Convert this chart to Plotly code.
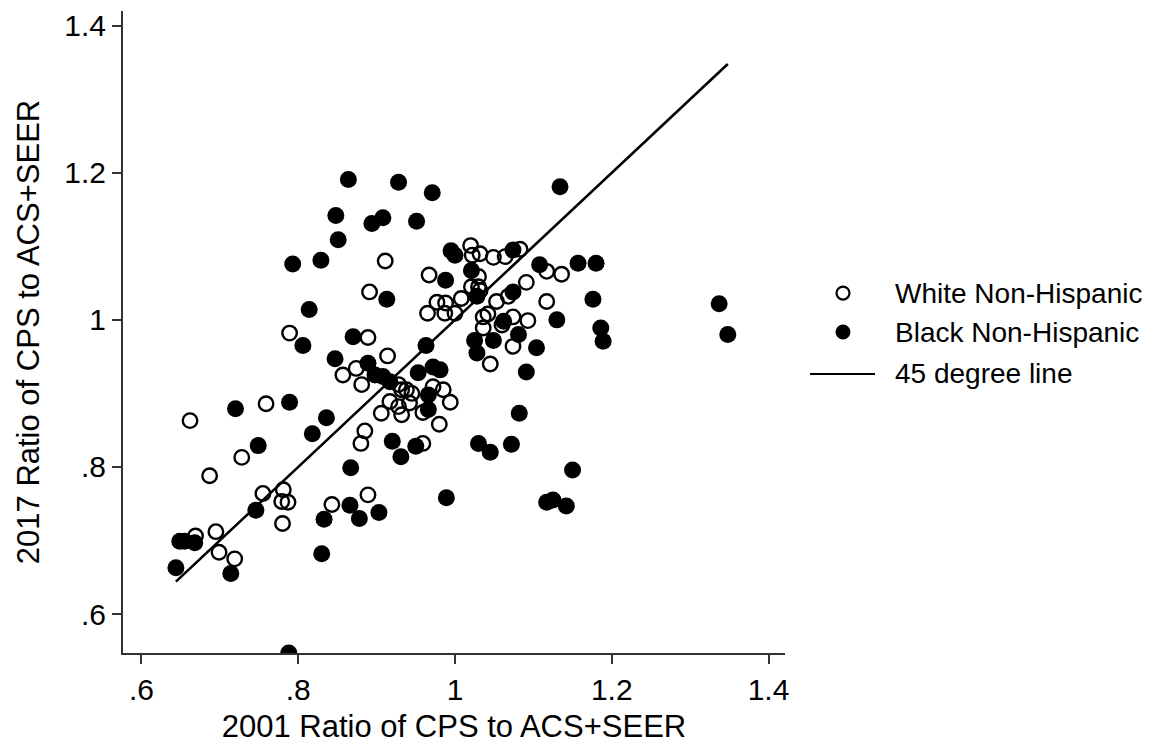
import plotly.graph_objects as go

# 2001 vs 2017 ratio of CPS to ACS+SEER population counts
white_x = [0.789, 0.911, 1.020, 1.022, 1.032, 1.049, 1.064, 1.083, 0.967, 1.030,
           1.021, 1.030, 1.032, 0.891, 1.008, 1.053, 1.068, 1.091, 1.117, 1.136,
           1.117, 0.977, 0.988, 0.965, 0.987, 1.000, 1.036, 1.042, 1.074, 1.093,
           1.060, 1.036, 0.889, 1.074, 1.045, 0.914, 0.874, 0.857, 0.881, 0.928,
           0.938, 0.945, 0.932, 0.917, 0.928, 0.942, 0.906, 0.932, 0.972, 0.985,
           0.994, 0.959, 0.980, 0.885, 0.880, 0.959, 0.889, 0.759, 0.662, 0.728,
           0.687, 0.755, 0.781, 0.779, 0.787, 0.843, 0.780, 0.695, 0.669, 0.699,
           0.719]
white_y = [0.982, 1.080, 1.101, 1.088, 1.090, 1.085, 1.086, 1.096, 1.061, 1.059,
           1.045, 1.045, 1.040, 1.038, 1.029, 1.025, 1.032, 1.051, 1.066, 1.062,
           1.025, 1.024, 1.023, 1.009, 1.009, 1.009, 1.004, 1.008, 1.004, 0.999,
           0.993, 0.989, 0.976, 0.964, 0.940, 0.951, 0.934, 0.925, 0.912, 0.912,
           0.905, 0.900, 0.905, 0.889, 0.882, 0.887, 0.873, 0.871, 0.909, 0.905,
           0.888, 0.874, 0.858, 0.849, 0.832, 0.832, 0.762, 0.886, 0.863, 0.813,
           0.788, 0.764, 0.769, 0.753, 0.752, 0.749, 0.723, 0.712, 0.706, 0.684,
           0.675]

black_x = [0.864, 0.928, 0.971, 1.134, 0.848, 0.851, 0.894, 0.908, 0.951, 0.793,
           0.829, 0.814, 0.806, 0.995, 1.000, 1.074, 0.988, 1.021, 1.028, 0.913,
           1.074, 1.108, 1.130, 1.062, 1.081, 0.870, 0.963, 1.025, 1.028, 1.049,
           1.104, 1.157, 1.180, 1.176, 1.186, 1.189, 1.337, 1.348, 1.150, 1.142,
           1.117, 1.125, 1.091, 0.847, 0.889, 0.898, 0.908, 0.917, 0.953, 0.972,
           0.981, 0.966, 0.966, 0.920, 0.931, 0.950, 1.030, 1.045, 1.072, 1.082,
           0.867, 0.989, 0.866, 0.903, 0.878, 0.720, 0.789, 0.836, 0.818, 0.749,
           0.746, 0.833, 0.830, 0.649, 0.655, 0.668, 0.714, 0.644, 0.788]
black_y = [1.191, 1.187, 1.173, 1.181, 1.142, 1.109, 1.131, 1.139, 1.134, 1.076,
           1.081, 1.014, 0.965, 1.094, 1.088, 1.095, 1.054, 1.067, 1.032, 1.028,
           1.038, 1.075, 1.000, 0.998, 0.980, 0.977, 0.965, 0.972, 0.955, 0.972,
           0.962, 1.077, 1.077, 1.028, 0.989, 0.971, 1.022, 0.980, 0.796, 0.747,
           0.752, 0.755, 0.929, 0.947, 0.941, 0.925, 0.923, 0.916, 0.928, 0.936,
           0.932, 0.898, 0.878, 0.835, 0.814, 0.828, 0.832, 0.820, 0.831, 0.873,
           0.799, 0.758, 0.748, 0.738, 0.730, 0.879, 0.888, 0.867, 0.845, 0.829,
           0.741, 0.729, 0.682, 0.699, 0.699, 0.697, 0.655, 0.663, 0.547]

tick_vals = [0.6, 0.8, 1.0, 1.2, 1.4]
tick_text = [".6", ".8", "1", "1.2", "1.4"]

series_names = ["White Non-Hispanic", "Black Non-Hispanic", "45 degree line"]

# 45 degree reference line spanning the observed range
all_x = white_x + black_x
line_ends = [min(all_x), max(all_x)]

FONT = "Liberation Sans, Arial, Helvetica, sans-serif"

fig = go.Figure()
fig.add_trace(go.Scatter(
    x=white_x, y=white_y, mode="markers", name=series_names[0],
    marker=dict(symbol="circle-open", size=14.5, color="black",
                line=dict(width=2.4, color="black")),
))
fig.add_trace(go.Scatter(
    x=black_x, y=black_y, mode="markers", name=series_names[1],
    marker=dict(symbol="circle", size=17, color="black", line=dict(width=0)),
))
fig.add_trace(go.Scatter(
    x=line_ends, y=line_ends, mode="lines", name=series_names[2],
    line=dict(color="black", width=2.6),
))

axis_common = dict(
    showline=True, linecolor="#333333", linewidth=2,
    ticks="outside", ticklen=9, tickwidth=1.6, tickcolor="#333333",
    showgrid=False, zeroline=False, automargin=False,
    tickvals=tick_vals, ticktext=tick_text,
    tickfont=dict(family=FONT, size=30, color="black"),
    mirror=False,
)

# Key drawn to the right of the plot: symbol column, then labels
key_rows = [0.5607, 0.5000, 0.4346]
key_sym_x = 1.0876
key_text_x = 1.1631
shapes = [
    dict(type="circle", xref="paper", yref="paper",
         xsizemode="pixel", ysizemode="pixel",
         xanchor=key_sym_x, yanchor=key_rows[0],
         x0=-6.5, x1=6.5, y0=-6.5, y1=6.5,
         line=dict(color="black", width=2.2), fillcolor="rgba(0,0,0,0)"),
    dict(type="circle", xref="paper", yref="paper",
         xsizemode="pixel", ysizemode="pixel",
         xanchor=key_sym_x, yanchor=key_rows[1],
         x0=-7.5, x1=7.5, y0=-7.5, y1=7.5,
         line=dict(color="black", width=0), fillcolor="black"),
    dict(type="line", xref="paper", yref="paper",
         x0=1.0378, x1=1.136, y0=key_rows[2], y1=key_rows[2],
         line=dict(color="black", width=2.2)),
]
annotations = [
    dict(text=name, xref="paper", yref="paper", x=key_text_x, y=yy,
         xanchor="left", yanchor="middle", showarrow=False,
         font=dict(family=FONT, size=28, color="black"))
    for name, yy in zip(series_names, key_rows)
]

fig.update_layout(
    width=1151, height=744,
    paper_bgcolor="white", plot_bgcolor="white",
    margin=dict(l=123, r=366, t=11, b=91),
    font=dict(family=FONT, color="black"),
    xaxis=dict(range=[0.5765, 1.421],
               title=dict(text="2001 Ratio of CPS to ACS+SEER",
                          font=dict(family=FONT, size=31, color="black")),
               **axis_common),
    yaxis=dict(range=[0.547, 1.42], tickangle=0,
               title=dict(text="2017 Ratio of CPS to ACS+SEER",
                          font=dict(family=FONT, size=31, color="black")),
               **axis_common),
    showlegend=False,
    shapes=shapes,
    annotations=annotations,
)

fig.write_html("out.html")
